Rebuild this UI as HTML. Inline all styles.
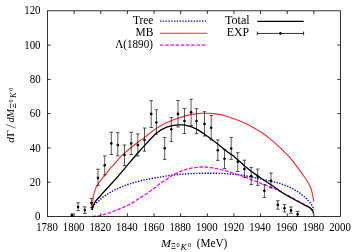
<!DOCTYPE html>
<html><head><meta charset="utf-8"><title>plot</title>
<style>
html,body{margin:0;padding:0;background:#fff;}
body{width:360px;height:252px;overflow:hidden;}
svg{display:block;will-change:transform;}
text{font-family:"Liberation Serif",serif;fill:#000;}
</style></head><body>
<svg width="360" height="252" viewBox="0 0 360 252">
<rect x="0" y="0" width="360" height="252" fill="#fff"/>

<g font-size="11.7" text-anchor="middle">
<text x="47.00" y="230.6" textLength="21.6" lengthAdjust="spacingAndGlyphs">1780</text>
<text x="73.64" y="230.6" textLength="21.6" lengthAdjust="spacingAndGlyphs">1800</text>
<text x="100.27" y="230.6" textLength="21.6" lengthAdjust="spacingAndGlyphs">1820</text>
<text x="126.91" y="230.6" textLength="21.6" lengthAdjust="spacingAndGlyphs">1840</text>
<text x="153.55" y="230.6" textLength="21.6" lengthAdjust="spacingAndGlyphs">1860</text>
<text x="180.18" y="230.6" textLength="21.6" lengthAdjust="spacingAndGlyphs">1880</text>
<text x="206.82" y="230.6" textLength="21.6" lengthAdjust="spacingAndGlyphs">1900</text>
<text x="233.45" y="230.6" textLength="21.6" lengthAdjust="spacingAndGlyphs">1920</text>
<text x="260.09" y="230.6" textLength="21.6" lengthAdjust="spacingAndGlyphs">1940</text>
<text x="286.73" y="230.6" textLength="21.6" lengthAdjust="spacingAndGlyphs">1960</text>
<text x="313.36" y="230.6" textLength="21.6" lengthAdjust="spacingAndGlyphs">1980</text>
<text x="340.00" y="230.6" textLength="21.6" lengthAdjust="spacingAndGlyphs">2000</text>
</g>
<g font-size="11.7" text-anchor="end">
<text x="40.6" y="220.10" textLength="5.5" lengthAdjust="spacingAndGlyphs">0</text>
<text x="40.6" y="185.82" textLength="10.9" lengthAdjust="spacingAndGlyphs">20</text>
<text x="40.6" y="151.53" textLength="10.9" lengthAdjust="spacingAndGlyphs">40</text>
<text x="40.6" y="117.25" textLength="10.9" lengthAdjust="spacingAndGlyphs">60</text>
<text x="40.6" y="82.97" textLength="10.9" lengthAdjust="spacingAndGlyphs">80</text>
<text x="40.6" y="48.68" textLength="16.4" lengthAdjust="spacingAndGlyphs">100</text>
<text x="40.6" y="14.40" textLength="16.4" lengthAdjust="spacingAndGlyphs">120</text>
</g>
<path d="M92.0,210.0 L93.6,205.4 L95.5,203.4 L97.1,202.4 L98.6,201.0 L102.7,197.3 L109.3,192.9 L116.0,189.3 L122.7,186.4 L129.3,184.0 L134.9,182.3 L142.2,180.4 L153.3,178.2 L160.0,177.1 L171.1,175.2 L182.2,174.1 L193.3,173.5 L200.0,173.3 L211.1,173.2 L222.2,173.4 L227.8,173.8 L233.3,174.3 L240.0,174.9 L251.1,176.8 L262.2,179.3 L273.3,181.8 L280.0,183.4 L285.0,185.3 L290.0,187.3 L295.6,190.4 L298.4,192.2 L302.9,195.5 L306.2,198.3 L309.6,202.2 L311.8,205.0 L313.1,207.8 L313.6,210.0" fill="none" stroke="#0000ff" stroke-width="1.4" stroke-dasharray="1.4 1.4"/>
<path d="M92.0,210.0 L93.3,196.2 L95.8,187.9 L100.0,181.2 L104.3,176.2 L110.0,168.6 L114.4,164.2 L121.1,156.2 L126.7,151.2 L132.2,146.8 L137.8,142.3 L143.3,138.4 L146.1,136.2 L150.0,133.0 L155.6,128.9 L161.1,125.5 L166.7,122.8 L172.2,120.2 L177.8,118.3 L183.3,116.6 L186.0,115.8 L191.6,114.4 L197.1,113.6 L202.7,113.3 L208.2,113.3 L213.8,113.6 L219.3,114.4 L226.0,116.0 L228.3,116.8 L236.7,119.7 L240.0,121.0 L248.3,124.7 L256.7,129.4 L262.0,132.7 L267.6,136.8 L273.1,141.4 L278.7,146.4 L284.3,151.8 L287.6,155.1 L290.3,157.9 L293.1,161.6 L298.7,168.9 L303.9,176.2 L306.7,180.2 L309.4,185.1 L311.1,188.4 L312.2,192.9 L313.1,197.3 L313.7,201.5" fill="none" stroke="#ff0000" stroke-width="1.1" stroke-linejoin="round" opacity="0.85"/>
<path d="M92.4,216.5 L99.1,215.8 L104.7,214.3 L110.2,212.7 L115.8,210.4 L121.3,208.2 L126.9,205.8 L133.3,202.4 L139.4,198.0 L144.4,195.2 L150.0,191.3 L155.6,187.2 L160.0,183.6 L165.6,180.0 L171.1,176.1 L176.7,173.1 L182.2,170.6 L187.8,168.9 L193.3,167.8 L200.0,167.0 L205.6,167.0 L211.1,167.6 L216.7,168.6 L222.2,169.9 L227.8,171.3 L233.3,173.2 L240.0,175.4 L245.6,177.1 L251.1,179.6 L256.7,181.6 L262.2,184.0 L267.8,186.0 L273.3,188.2 L277.8,190.2 L280.0,191.4 L284.0,193.5 L291.8,197.4 L300.7,202.4 L306.2,205.3 L309.6,207.3 L311.8,209.7 L313.0,212.2 L313.4,213.6" fill="none" stroke="#ff00ff" stroke-width="1.3" stroke-dasharray="3.6 1.6"/>
<path d="M92.0,210.0 L93.6,204.5 L95.8,200.8 L99.1,197.2 L101.7,194.3 L110.0,185.2 L118.2,176.2 L125.0,168.2 L128.3,164.2 L132.2,159.5 L137.8,153.0 L143.3,146.9 L148.9,140.7 L155.6,133.8 L161.1,129.9 L166.7,127.2 L172.2,125.6 L177.8,124.8 L183.3,124.9 L186.0,125.3 L191.6,126.8 L197.1,129.4 L202.7,132.9 L206.0,135.2 L211.6,139.3 L217.1,143.5 L222.7,148.0 L228.2,152.4 L233.8,156.3 L236.0,158.2 L245.0,166.2 L251.1,171.2 L256.7,175.1 L262.2,179.0 L267.8,182.7 L273.3,186.2 L280.0,191.0 L284.0,193.8 L289.6,196.9 L295.1,200.0 L300.7,203.0 L306.2,205.8 L309.6,207.5 L311.8,209.4 L313.1,211.6 L313.6,213.3" fill="none" stroke="#000" stroke-width="1.3" stroke-linejoin="round"/>
<g stroke="#000" stroke-width="0.65" fill="none">
<path d="M72.0,213.8 V216.4 M70.2,213.8 h3.6 M70.2,216.4 h3.6"/>
<path d="M78.1,202.8 V210.7 M76.3,202.8 h3.6 M76.3,210.7 h3.6"/>
<path d="M84.8,206.8 V213.4 M83.0,206.8 h3.6 M83.0,213.4 h3.6"/>
<path d="M91.4,198.4 V207.7 M89.6,198.4 h3.6 M89.6,207.7 h3.6"/>
<path d="M98.0,169.2 V185.4 M96.2,169.2 h3.6 M96.2,185.4 h3.6"/>
<path d="M104.7,155.9 V175.0 M102.9,155.9 h3.6 M102.9,175.0 h3.6"/>
<path d="M111.3,132.2 V154.5 M109.5,132.2 h3.6 M109.5,154.5 h3.6"/>
<path d="M117.8,132.7 V155.9 M116.0,132.7 h3.6 M116.0,155.9 h3.6"/>
<path d="M124.5,145.0 V165.5 M122.7,145.0 h3.6 M122.7,165.5 h3.6"/>
<path d="M131.2,132.2 V154.5 M129.4,132.2 h3.6 M129.4,154.5 h3.6"/>
<path d="M137.8,133.9 V156.0 M136.0,133.9 h3.6 M136.0,156.0 h3.6"/>
<path d="M144.5,128.0 V151.2 M142.7,128.0 h3.6 M142.7,151.2 h3.6"/>
<path d="M151.2,100.7 V127.5 M149.4,100.7 h3.6 M149.4,127.5 h3.6"/>
<path d="M156.4,109.8 V134.2 M154.6,109.8 h3.6 M154.6,134.2 h3.6"/>
<path d="M164.7,137.4 V159.4 M162.9,137.4 h3.6 M162.9,159.4 h3.6"/>
<path d="M171.3,117.5 V141.5 M169.5,117.5 h3.6 M169.5,141.5 h3.6"/>
<path d="M178.0,100.5 V127.0 M176.2,100.5 h3.6 M176.2,127.0 h3.6"/>
<path d="M184.5,108.4 V133.5 M182.7,108.4 h3.6 M182.7,133.5 h3.6"/>
<path d="M191.1,99.2 V125.5 M189.3,99.2 h3.6 M189.3,125.5 h3.6"/>
<path d="M196.5,108.7 V133.7 M194.7,108.7 h3.6 M194.7,133.7 h3.6"/>
<path d="M204.5,111.7 V136.0 M202.7,111.7 h3.6 M202.7,136.0 h3.6"/>
<path d="M211.2,115.5 V139.9 M209.4,115.5 h3.6 M209.4,139.9 h3.6"/>
<path d="M217.8,139.9 V160.4 M216.0,139.9 h3.6 M216.0,160.4 h3.6"/>
<path d="M224.5,149.4 V168.5 M222.7,149.4 h3.6 M222.7,168.5 h3.6"/>
<path d="M231.2,137.4 V159.4 M229.4,137.4 h3.6 M229.4,159.4 h3.6"/>
<path d="M237.8,152.7 V171.5 M236.0,152.7 h3.6 M236.0,171.5 h3.6"/>
<path d="M244.4,160.2 V177.7 M242.6,160.2 h3.6 M242.6,177.7 h3.6"/>
<path d="M251.2,167.4 V184.6 M249.4,167.4 h3.6 M249.4,184.6 h3.6"/>
<path d="M257.7,169.1 V185.3 M255.9,169.1 h3.6 M255.9,185.3 h3.6"/>
<path d="M264.4,184.7 V197.4 M262.6,184.7 h3.6 M262.6,197.4 h3.6"/>
<path d="M271.0,173.0 V187.9 M269.2,173.0 h3.6 M269.2,187.9 h3.6"/>
<path d="M277.8,200.7 V209.2 M276.0,200.7 h3.6 M276.0,209.2 h3.6"/>
<path d="M284.5,204.5 V212.0 M282.7,204.5 h3.6 M282.7,212.0 h3.6"/>
<path d="M291.0,207.0 V213.2 M289.2,207.0 h3.6 M289.2,213.2 h3.6"/>
<path d="M297.6,211.5 V216.4 M295.8,211.5 h3.6 M295.8,216.4 h3.6"/>
</g>
<g fill="#000">
<circle cx="72.0" cy="215.3" r="1.3"/>
<circle cx="78.1" cy="207.0" r="1.3"/>
<circle cx="84.8" cy="210.1" r="1.3"/>
<circle cx="91.4" cy="203.1" r="1.3"/>
<circle cx="98.0" cy="177.9" r="1.3"/>
<circle cx="104.7" cy="165.2" r="1.3"/>
<circle cx="111.3" cy="143.4" r="1.3"/>
<circle cx="117.8" cy="145.0" r="1.3"/>
<circle cx="124.5" cy="155.0" r="1.3"/>
<circle cx="131.2" cy="143.4" r="1.3"/>
<circle cx="137.8" cy="145.1" r="1.3"/>
<circle cx="144.5" cy="140.0" r="1.3"/>
<circle cx="151.2" cy="113.9" r="1.3"/>
<circle cx="156.4" cy="122.5" r="1.3"/>
<circle cx="164.7" cy="148.2" r="1.3"/>
<circle cx="171.3" cy="129.3" r="1.3"/>
<circle cx="178.0" cy="113.9" r="1.3"/>
<circle cx="184.5" cy="121.0" r="1.3"/>
<circle cx="191.1" cy="112.2" r="1.3"/>
<circle cx="196.5" cy="121.0" r="1.3"/>
<circle cx="204.5" cy="123.9" r="1.3"/>
<circle cx="211.2" cy="127.7" r="1.3"/>
<circle cx="217.8" cy="150.2" r="1.3"/>
<circle cx="224.5" cy="158.7" r="1.3"/>
<circle cx="231.2" cy="148.5" r="1.3"/>
<circle cx="237.8" cy="161.7" r="1.3"/>
<circle cx="244.4" cy="169.0" r="1.3"/>
<circle cx="251.2" cy="176.0" r="1.3"/>
<circle cx="257.7" cy="176.7" r="1.3"/>
<circle cx="264.4" cy="190.8" r="1.3"/>
<circle cx="271.0" cy="180.9" r="1.3"/>
<circle cx="277.8" cy="204.9" r="1.3"/>
<circle cx="284.5" cy="208.2" r="1.3"/>
<circle cx="291.0" cy="210.4" r="1.3"/>
<circle cx="297.6" cy="214.2" r="1.3"/>
</g>
<g stroke="#000" stroke-width="0.8" fill="none">
<rect x="47.50" y="10.80" width="293.00" height="205.70"/>
<path d="M74.14,216.50 v-3.2 M74.14,10.80 v3.2"/>
<path d="M100.77,216.50 v-3.2 M100.77,10.80 v3.2"/>
<path d="M127.41,216.50 v-3.2 M127.41,10.80 v3.2"/>
<path d="M154.05,216.50 v-3.2 M154.05,10.80 v3.2"/>
<path d="M180.68,216.50 v-3.2 M180.68,10.80 v3.2"/>
<path d="M207.32,216.50 v-3.2 M207.32,10.80 v3.2"/>
<path d="M233.95,216.50 v-3.2 M233.95,10.80 v3.2"/>
<path d="M260.59,216.50 v-3.2 M260.59,10.80 v3.2"/>
<path d="M287.23,216.50 v-3.2 M287.23,10.80 v3.2"/>
<path d="M313.86,216.50 v-3.2 M313.86,10.80 v3.2"/>
<path d="M47.50,182.22 h3.2 M340.50,182.22 h-3.2"/>
<path d="M47.50,147.93 h3.2 M340.50,147.93 h-3.2"/>
<path d="M47.50,113.65 h3.2 M340.50,113.65 h-3.2"/>
<path d="M47.50,79.37 h3.2 M340.50,79.37 h-3.2"/>
<path d="M47.50,45.08 h3.2 M340.50,45.08 h-3.2"/>
</g>
<g font-size="11.7" text-anchor="end">
<text x="153.4" y="24" textLength="20.4" lengthAdjust="spacingAndGlyphs">Tree</text>
<text x="153.4" y="36.2" textLength="17.8" lengthAdjust="spacingAndGlyphs">MB</text>
<text x="152.9" y="48.4" textLength="37.6" lengthAdjust="spacingAndGlyphs">Λ(1890)</text>
<text x="249.7" y="24" textLength="24.8" lengthAdjust="spacingAndGlyphs">Total</text>
<text x="249" y="36.2" textLength="22.2" lengthAdjust="spacingAndGlyphs">EXP</text>
</g>
<path d="M160,21.1 H207.2" fill="none" stroke="#0000ff" stroke-width="1.4" stroke-dasharray="1.4 1.4"/>
<path d="M160,33.3 H207.2" fill="none" stroke="#ff0000" stroke-width="1.1" opacity="0.85"/>
<path d="M160,45.2 H207.2" fill="none" stroke="#ff00ff" stroke-width="1.3" stroke-dasharray="3.6 1.6"/>
<path d="M257.2,21.3 H303.7" fill="none" stroke="#000" stroke-width="1.3"/>
<path d="M257.2,33.45 H303.7 M257.3,31.6 v3.6 M303.6,31.6 v3.6" fill="none" stroke="#000" stroke-width="0.8"/>
<circle cx="280.4" cy="33.4" r="1.3" fill="#000"/>
<text x="161" y="247" font-size="11.4" font-style="italic" textLength="10" lengthAdjust="spacingAndGlyphs">M</text>
<text x="171.1" y="248.8" font-size="7.8" textLength="4.8" lengthAdjust="spacingAndGlyphs">Ξ</text>
<text x="176.4" y="246.5" font-size="5.9" textLength="3.2" lengthAdjust="spacingAndGlyphs">0</text>
<text x="180.4" y="249.8" font-size="7.8" font-style="italic" textLength="6.2" lengthAdjust="spacingAndGlyphs">K</text>
<text x="187.9" y="246.5" font-size="5.9" textLength="3.2" lengthAdjust="spacingAndGlyphs">0</text>
<text x="196.7" y="247" font-size="11.6" textLength="30.6" lengthAdjust="spacingAndGlyphs">(MeV)</text>
<g transform="translate(14.1,142.8) rotate(-90)">
<text x="0" y="0" font-size="11.4" font-style="italic">d</text>
<text x="6.0" y="0" font-size="11.4" textLength="6.7" lengthAdjust="spacingAndGlyphs">Γ</text>
<path d="M14.7,1.5 L18.4,-8" stroke="#000" stroke-width="0.6" fill="none"/>
<text x="20.2" y="0" font-size="11.4" font-style="italic" textLength="13.7" lengthAdjust="spacingAndGlyphs">dM</text>
<text x="34.2" y="1.9" font-size="7.8" textLength="5.4" lengthAdjust="spacingAndGlyphs">Ξ</text>
<text x="40.4" y="-0.8" font-size="5.9" textLength="3.1" lengthAdjust="spacingAndGlyphs">0</text>
<text x="44.8" y="1.9" font-size="7.8" font-style="italic" textLength="5.6" lengthAdjust="spacingAndGlyphs">K</text>
<text x="52.1" y="-0.8" font-size="5.9" textLength="3.1" lengthAdjust="spacingAndGlyphs">0</text>
</g>
</svg></body></html>
